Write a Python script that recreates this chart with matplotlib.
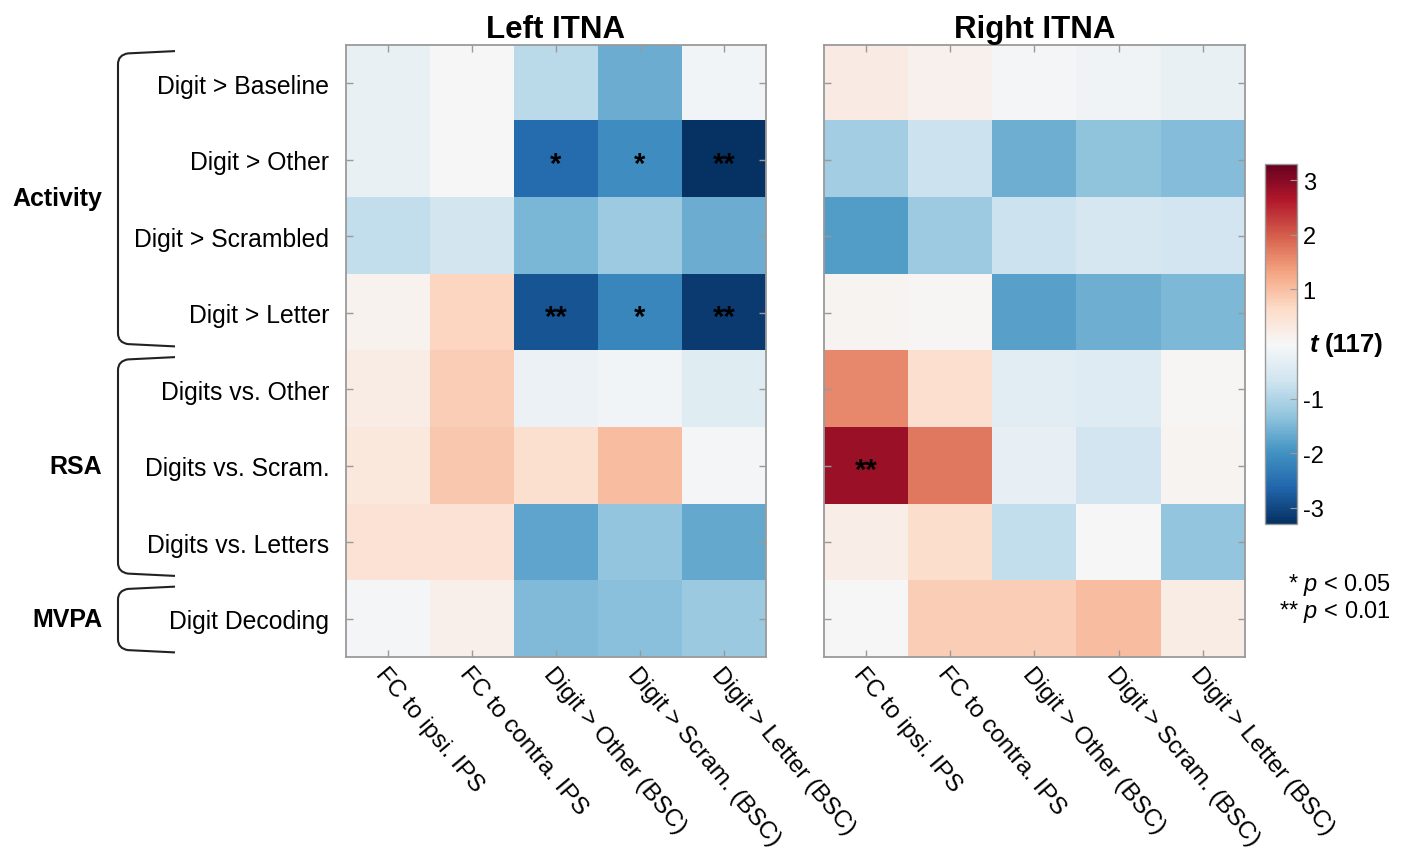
import numpy as np
import matplotlib.pyplot as plt
from matplotlib.path import Path
from matplotlib.patches import PathPatch
import matplotlib.transforms as mtransforms

plt.rcParams['font.family'] = ['Liberation Sans', 'DejaVu Sans']
plt.rcParams['mathtext.fontset'] = 'custom'
plt.rcParams['mathtext.it'] = 'Liberation Sans:italic'
plt.rcParams['mathtext.rm'] = 'Liberation Sans'

# row / column labels
rows = ['Digit > Baseline', 'Digit > Other', 'Digit > Scrambled', 'Digit > Letter',
        'Digits vs. Other', 'Digits vs. Scram.', 'Digits vs. Letters', 'Digit Decoding']
cols = ['FC to ipsi. IPS', 'FC to contra. IPS', 'Digit > Other (BSC)',
        'Digit > Scram. (BSC)', 'Digit > Letter (BSC)']

# groups of rows (first, last)
groups = ['Activity', 'RSA', 'MVPA']
group_rows = [(0, 3), (4, 6), (7, 7)]

# t values
left_t = [
    [-0.25, 0.02, -0.90, -1.65, -0.10],
    [-0.25, 0.00, -2.55, -2.05, -3.25],
    [-0.80, -0.60, -1.50, -1.20, -1.65],
    [0.12, 0.72, -2.85, -2.15, -3.15],
    [0.25, 0.80, -0.20, -0.08, -0.40],
    [0.35, 0.88, 0.52, 1.02, -0.05],
    [0.48, 0.48, -1.75, -1.30, -1.70],
    [-0.07, 0.18, -1.45, -1.38, -1.22],
]
right_t = [
    [0.26, 0.13, -0.07, -0.12, -0.25],
    [-1.15, -0.70, -1.60, -1.32, -1.42],
    [-1.85, -1.20, -0.70, -0.55, -0.62],
    [0.10, 0.05, -1.78, -1.60, -1.47],
    [1.58, 0.55, -0.35, -0.42, 0.05],
    [2.85, 1.75, -0.27, -0.62, 0.10],
    [0.22, 0.58, -0.82, 0.00, -1.30],
    [0.00, 0.80, 0.80, 1.02, 0.25],
]

# significance marks
left_sig = [
    ['', '', '', '', ''],
    ['', '', '*', '*', '**'],
    ['', '', '', '', ''],
    ['', '', '**', '*', '**'],
    ['', '', '', '', ''],
    ['', '', '', '', ''],
    ['', '', '', '', ''],
    ['', '', '', '', ''],
]
right_sig = [
    ['', '', '', '', ''],
    ['', '', '', '', ''],
    ['', '', '', '', ''],
    ['', '', '', '', ''],
    ['', '', '', '', ''],
    ['**', '', '', '', ''],
    ['', '', '', '', ''],
    ['', '', '', '', ''],
]

vmax = 3.3
gray = '#9a9a9a'

fig = plt.figure(figsize=(14.06, 8.53), dpi=100)
axL = fig.add_axes([0.246, 0.2286, 0.2987, 0.7175])
axR = fig.add_axes([0.586, 0.2286, 0.2994, 0.7175])
cax = fig.add_axes([0.8997, 0.3845, 0.0228, 0.422])

for ax, vals, sig, title in [(axL, left_t, left_sig, 'Left ITNA'),
                             (axR, right_t, right_sig, 'Right ITNA')]:
    im = ax.imshow(np.array(vals), cmap='RdBu_r', vmin=-vmax, vmax=vmax, aspect='auto')
    ax.set_title(title, fontsize=22.5, fontweight='bold', pad=6)
    ax.set_xticks(range(len(cols)))
    ax.set_xticklabels(cols, rotation=-50, ha='left', va='top', rotation_mode='anchor', fontsize=17.5)
    ax.set_yticks(range(len(rows)))
    ax.tick_params(direction='in', length=5, width=1, color=gray, top=True, right=True)
    ax.tick_params(axis='x', pad=4)
    ax.tick_params(axis='y', pad=12, labelsize=17.8)
    for s in ax.spines.values():
        s.set_color(gray)
        s.set_linewidth(1.3)
    for i, row in enumerate(sig):
        for j, s in enumerate(row):
            if s:
                ax.text(j, i + 0.16, s, ha='center', va='baseline', fontsize=21,
                        fontweight='bold', color='black')

axL.set_yticklabels(rows)
axR.set_yticklabels([])

# colorbar
cb = fig.colorbar(im, cax=cax, ticks=[-3, -2, -1, 1, 2, 3])
cb.ax.set_yticklabels(['-3', '-2', '-1', '1', '2', '3'])
cb.ax.tick_params(direction='in', length=5, color=gray, labelsize=17, pad=4)
cb.outline.set_edgecolor(gray)
cb.outline.set_linewidth(1.0)
cax.text(1.4, 0, 't', transform=cax.get_yaxis_transform(), fontsize=18.5,
         fontweight='bold', style='italic', va='center', ha='left')
cax.annotate('(117)', xy=(1.4, 0), xycoords=cax.get_yaxis_transform(), xytext=(11, 0),
             textcoords='offset points', fontsize=18.5, fontweight='bold', va='center', ha='left')

# significance legend
fig.text(0.989, 1 - 585 / 853, r'* $p$ < 0.05', ha='right', va='center', fontsize=17)
fig.text(0.989, 1 - 612 / 853, r'** $p$ < 0.01', ha='right', va='center', fontsize=17)

# group brackets and labels
trans = mtransforms.blended_transform_factory(fig.transFigure, axL.transData)
x_line = 118 / 1406
x_end = 175 / 1406
x_knee = 128 / 1406
for name, (r0, r1) in zip(groups, group_rows):
    top = r0 - 0.5 + 0.08
    bot = r1 + 0.5 - 0.06
    verts = [(x_end, top), (x_knee, top + 0.03), (x_line, top + 0.05), (x_line, top + 0.17),
             (x_line, bot - 0.17), (x_line, bot - 0.05), (x_knee, bot - 0.03), (x_end, bot)]
    codes = [Path.MOVETO, Path.LINETO, Path.CURVE3, Path.CURVE3,
             Path.LINETO, Path.CURVE3, Path.CURVE3, Path.LINETO]
    patch = PathPatch(Path(verts, codes), transform=trans, fill=False,
                      edgecolor='#222222', linewidth=1.5, clip_on=False)
    fig.add_artist(patch)
    fig.text(102 / 1406, (r0 + r1) / 2, name, transform=trans, ha='right', va='center',
             fontsize=18, fontweight='bold')

fig.savefig('out.png', dpi=100)
